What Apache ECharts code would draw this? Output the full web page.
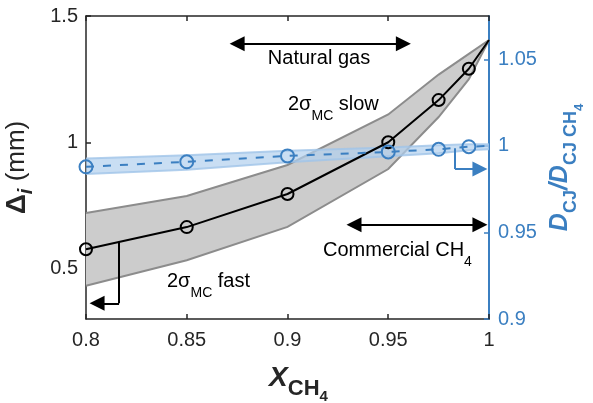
<!DOCTYPE html>
<html>
<head>
<meta charset="utf-8">
<script src="https://cdn.jsdelivr.net/npm/echarts@6/dist/echarts.min.js"></script>
<style>html,body{margin:0;padding:0;background:#fff}#c{width:593px;height:403px}</style>
</head>
<body>
<div id="c"></div>
<script>
// ---- data ----
const xCH4 = [0.8, 0.85, 0.9, 0.95, 0.975, 0.99, 1.0];
const deltaMean = [0.576, 0.664, 0.795, 1.0, 1.167, 1.291, 1.405];
const deltaUpper = [0.72, 0.787, 0.91, 1.11, 1.268, 1.35, 1.405];
const deltaLower = [0.432, 0.533, 0.665, 0.894, 1.10, 1.25, 1.405];
const dcjRatio = [0.9879, 0.9908, 0.9942, 0.9965, 0.998, 0.9995, 1.0];
const dcjUpper = [0.9927, 0.9946, 0.9972, 0.999, 1.0003, 1.001, 1.001];
const dcjLower = [0.9837, 0.9862, 0.9905, 0.994, 0.9958, 0.9975, 0.998];
const xTicks = [0.8, 0.85, 0.9, 0.95, 1.0];
const leftTicks = [0.5, 1, 1.5];
const rightTicks = [0.9, 0.95, 1, 1.05];
// annotation arrows (data coordinates)
const natGasArrow = [[0.875, 1.39], [0.9575, 1.39]];
const commArrow = [[0.9330, 0.673], [0.9955, 0.673]];
const blackBend = [[0.8164, 0.605], [0.8164, 0.362], [0.8055, 0.362]];
const blueBend = [[0.9831, 0.9986], [0.9831, 0.9866], [0.9955, 0.9866]];

const FONT = 'Liberation Sans';
const BLUE = '#3b7fc1';
const DARK = '#262626';

function band(xs, lo, hi, yAxisIndex, fill, stroke, z) {
  return {
    type: 'custom', yAxisIndex: yAxisIndex, z: z, silent: true,
    data: [[xs[0], lo[0]]],
    renderItem: function (params, api) {
      const top = xs.map((x, i) => api.coord([x, hi[i]]));
      const bot = xs.map((x, i) => api.coord([x, lo[i]]));
      return {
        type: 'group', children: [
          {type: 'polygon', shape: {points: top.concat(bot.slice().reverse())}, style: {fill: fill, stroke: null}},
          {type: 'polyline', shape: {points: top}, style: {stroke: stroke, lineWidth: 2, fill: null}},
          {type: 'polyline', shape: {points: bot}, style: {stroke: stroke, lineWidth: 2, fill: null}}
        ]
      };
    }
  };
}

function pts(xs, ys) {
  return xs.map((x, i) => i === xs.length - 1 ? {value: [x, ys[i]], symbol: 'none'} : [x, ys[i]]);
}
function seg(a, b, arrowStart, arrowEnd) {
  return [
    {coord: a, symbol: arrowStart ? 'triangle' : 'none', symbolSize: [15, 15]},
    {coord: b, symbol: arrowEnd ? 'triangle' : 'none', symbolSize: [15, 15]}
  ];
}

const chart = echarts.init(document.getElementById('c'), null, {renderer: 'canvas'});
const option = {
  animation: false,
  backgroundColor: '#fff',
  grid: {left: 86, right: 104, top: 16, bottom: 84, containLabel: false, outerBoundsMode: 'none'},
  textStyle: {fontFamily: FONT},
  xAxis: [{
    type: 'value', min: 0.8, max: 1, interval: 0.05, position: 'bottom',
    axisLine: {lineStyle: {color: DARK, width: 1.5}},
    axisTick: {inside: true, length: 5, lineStyle: {color: DARK, width: 1.5}},
    axisLabel: {fontSize: 20, color: DARK, fontFamily: FONT, margin: 11,
      formatter: v => String(Math.round(v * 100) / 100)},
    splitLine: {show: false},
    name: '{x|X}{s|CH}{ss|4}', nameLocation: 'middle', nameGap: 34,
    nameTextStyle: {
      padding: [0, 0, 0, 22],
      rich: {
        x: {fontSize: 28, fontWeight: 'bold', fontStyle: 'italic', color: DARK, fontFamily: FONT},
        s: {fontSize: 22, fontWeight: 'bold', color: DARK, fontFamily: FONT, padding: [20, 0, 0, 0]},
        ss: {fontSize: 15, fontWeight: 'bold', color: DARK, fontFamily: FONT, padding: [36, 0, 0, 0]}
      }
    }
  }, {
    type: 'value', min: 0.8, max: 1, interval: 0.05, position: 'top',
    axisLine: {lineStyle: {color: DARK, width: 1.5}},
    axisTick: {inside: true, length: 5, lineStyle: {color: DARK, width: 1.5}},
    axisLabel: {show: false}, splitLine: {show: false}
  }],
  yAxis: [{
    type: 'value', min: 0.3, max: 1.5, position: 'left',
    axisLine: {show: true, lineStyle: {color: DARK, width: 1.5}},
    axisTick: {show: true, inside: true, length: 5, customValues: leftTicks, lineStyle: {color: DARK, width: 1.5}},
    axisLabel: {fontSize: 20, color: DARK, fontFamily: FONT, margin: 8, customValues: leftTicks},
    splitLine: {show: false},
    name: '{d|Δ}{s|i}{n| (mm)}', nameLocation: 'middle', nameGap: 50, nameRotate: 90,
    nameTextStyle: {
      rich: {
        d: {fontSize: 28, fontWeight: 'bold', color: DARK, fontFamily: FONT},
        s: {fontSize: 20, fontWeight: 'bold', fontStyle: 'italic', color: DARK, fontFamily: FONT, padding: [18, 0, 0, 0]},
        n: {fontSize: 26, color: DARK, fontFamily: FONT}
      }
    }
  }, {
    type: 'value', min: 0.9, max: 1.075, position: 'right',
    axisLine: {show: true, lineStyle: {color: BLUE, width: 2}},
    axisTick: {show: true, inside: true, length: 5, customValues: rightTicks, lineStyle: {color: BLUE, width: 1.5}},
    axisLabel: {fontSize: 20, color: BLUE, fontFamily: FONT, margin: 9, customValues: rightTicks},
    splitLine: {show: false},
    name: '{d|D}{s|CJ}{d|/D}{s|CJ CH}{ss|4}', nameLocation: 'middle', nameGap: 44, nameRotate: 90,
    nameTextStyle: {
      rich: {
        d: {fontSize: 25, fontWeight: 'bold', fontStyle: 'italic', color: BLUE, fontFamily: FONT},
        s: {fontSize: 18, fontWeight: 'bold', color: BLUE, fontFamily: FONT, padding: [22, 0, 0, 0]},
        ss: {fontSize: 13, fontWeight: 'bold', color: BLUE, fontFamily: FONT, padding: [38, 0, 0, 0]}
      }
    }
  }],
  series: [
    band(xCH4, deltaLower, deltaUpper, 0, '#cccccc', '#8c8c8c', 1),
    band(xCH4, dcjLower, dcjUpper, 1, 'rgba(178,208,238,0.7)', 'rgba(160,196,232,0.8)', 2),
    {
      type: 'line', yAxisIndex: 0, z: 3, data: pts(xCH4, deltaMean),
      symbol: 'circle', symbolSize: 12,
      lineStyle: {color: '#000', width: 2},
      itemStyle: {color: 'rgba(0,0,0,0)', borderColor: '#000', borderWidth: 2},
      emphasis: {disabled: true}, silent: true,
      markLine: {
        silent: true, animation: false, label: {show: false}, emphasis: {disabled: true},
        lineStyle: {color: '#000', width: 2, type: 'solid'},
        data: [
          seg(natGasArrow[0], natGasArrow[1], true, true),
          seg(commArrow[0], commArrow[1], true, true),
          seg(blackBend[0], blackBend[1], false, false),
          seg(blackBend[1], blackBend[2], false, true)
        ]
      }
    },
    {
      type: 'line', yAxisIndex: 1, z: 4, data: pts(xCH4, dcjRatio),
      symbol: 'circle', symbolSize: 13,
      lineStyle: {color: BLUE, width: 2, type: [8, 9]},
      itemStyle: {color: 'rgba(0,0,0,0)', borderColor: BLUE, borderWidth: 2},
      emphasis: {disabled: true}, silent: true,
      markLine: {
        silent: true, animation: false, label: {show: false}, emphasis: {disabled: true},
        lineStyle: {color: BLUE, width: 2, type: 'solid'},
        data: [
          seg(blueBend[0], blueBend[1], false, false),
          seg(blueBend[1], blueBend[2], false, true)
        ]
      }
    }
  ],
  graphic: [
    {type: 'text', x: 319, y: 58, silent: true, style: {text: 'Natural gas', fontSize: 20, fontFamily: FONT, fill: '#000', align: 'center', verticalAlign: 'middle'}},
    {type: 'text', x: 288, y: 104, silent: true, style: {
      text: '{m|2σ}{s|MC}{m| slow}', align: 'left', verticalAlign: 'middle',
      rich: {m: {fontSize: 20, fontFamily: FONT, fill: '#000'}, s: {fontSize: 14, fontFamily: FONT, fill: '#000', padding: [24, 0, 0, 0]}}}},
    {type: 'text', x: 167, y: 281, silent: true, style: {
      text: '{m|2σ}{s|MC}{m| fast}', align: 'left', verticalAlign: 'middle',
      rich: {m: {fontSize: 20, fontFamily: FONT, fill: '#000'}, s: {fontSize: 14, fontFamily: FONT, fill: '#000', padding: [24, 0, 0, 0]}}}},
    {type: 'text', x: 323, y: 250, silent: true, style: {
      text: '{m|Commercial CH}{s|4}', align: 'left', verticalAlign: 'middle',
      rich: {m: {fontSize: 20, fontFamily: FONT, fill: '#000'}, s: {fontSize: 14, fontFamily: FONT, fill: '#000', padding: [24, 0, 0, 0]}}}}
  ]
};
chart.setOption(option);
</script>
</body>
</html>
